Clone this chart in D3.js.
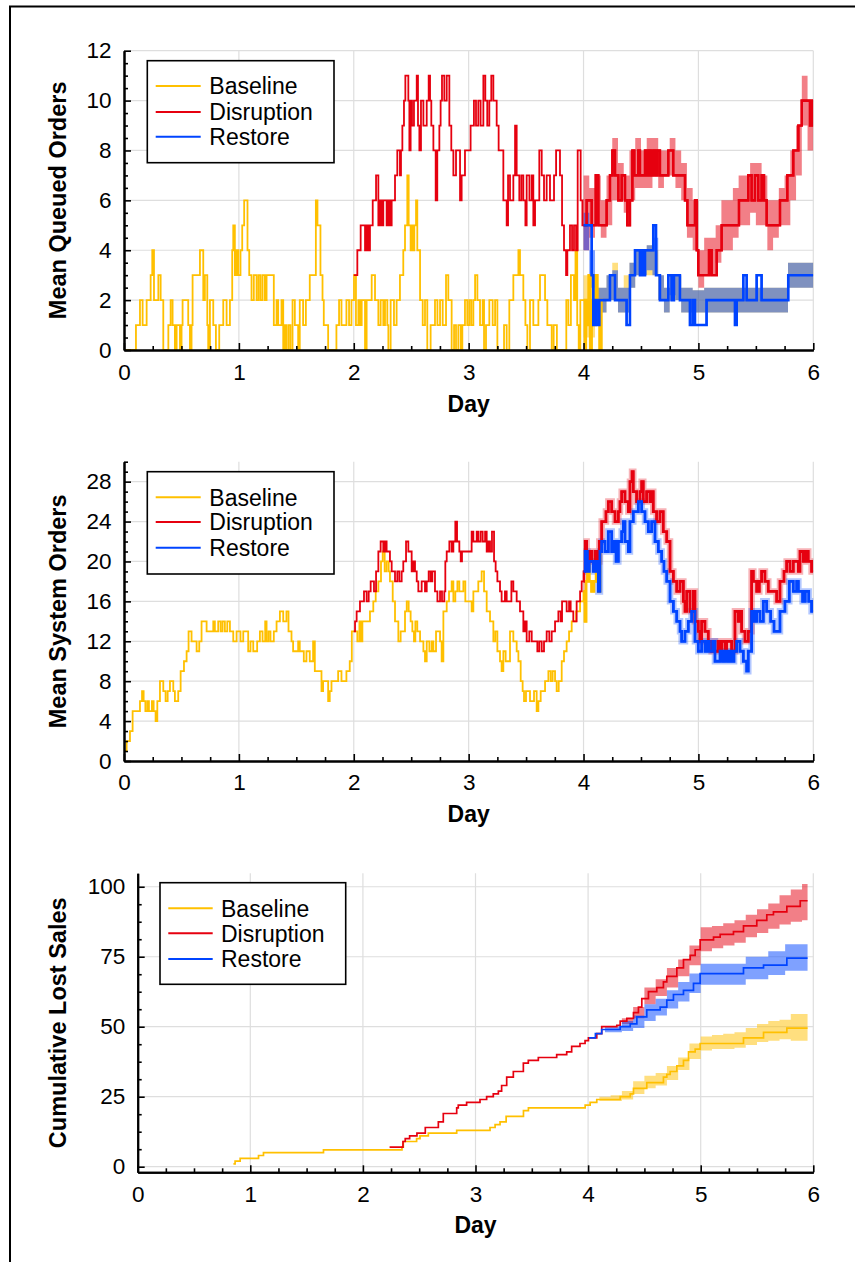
<!DOCTYPE html>
<html>
<head>
<meta charset="utf-8">
<script src="https://cdn.jsdelivr.net/npm/d3@7"></script>
<style>
  html, body { margin: 0; padding: 0; background: #fff; }
  svg { display: block; font-family: "Liberation Sans", Arial, Helvetica, sans-serif; }
</style>
</head>
<body>
<svg id="fig" width="855" height="1262"></svg>
<script>
// ---------- shared ----------
const seriesNames = ["Baseline", "Disruption", "Restore"];
const seriesColors = ["#ffc000", "#e6000f", "#0044ff"];
const dayTicks = [0, 1, 2, 3, 4, 5, 6];

// ---------- panel 1: mean queued orders, [day, value] steps ----------
const queueBaseline = [
  [0,0],[0.104,1],[0.139,2],[0.162,1],[0.197,2],[0.232,3],[0.246,4],[0.261,2],[0.299,3],[0.319,2],[0.342,0],
  [0.386,1],[0.406,2],[0.423,1],[0.443,0],[0.458,1],[0.487,0],[0.501,1],[0.510,2],[0.559,1],[0.574,0],[0.588,1],
  [0.597,3],[0.661,4],[0.690,2],[0.704,3],[0.725,1],[0.733,0],[0.748,2],[0.777,1],[0.800,0],[0.829,1],[0.864,2],
  [0.893,1],[0.922,2],[0.942,4],[0.951,5],[0.965,3],[0.980,4],[0.994,3],[1.014,4],[1.029,5],[1.046,6],[1.075,4],
  [1.090,3],[1.110,2],[1.130,3],[1.154,2],[1.171,3],[1.188,2],[1.206,3],[1.226,2],[1.241,3],[1.304,1],[1.328,2],
  [1.342,1],[1.371,2],[1.386,0],[1.400,1],[1.414,0],[1.432,1],[1.449,0],[1.467,2],[1.487,1],[1.516,0],[1.530,2],
  [1.559,1],[1.583,2],[1.617,3],[1.670,6],[1.684,5],[1.710,3],[1.728,2],[1.739,1],[1.777,0],[1.849,1],[1.872,2],
  [1.893,1],[1.936,2],[1.959,1],[1.980,2],
  [2.002,3],[2.019,1],[2.040,2],[2.054,1],[2.069,2],[2.098,0],[2.112,2],[2.156,3],[2.185,2],[2.214,1],[2.234,2],
  [2.257,1],[2.272,2],[2.292,1],[2.301,0],[2.321,2],[2.350,1],[2.373,2],[2.402,3],[2.431,4],[2.446,5],[2.466,7],
  [2.478,5],[2.495,4],[2.504,5],[2.518,4],[2.527,5],[2.542,6],[2.553,4],[2.577,2],[2.600,1],[2.620,2],[2.640,0],
  [2.669,1],[2.707,2],[2.728,1],[2.751,2],[2.774,1],[2.803,3],[2.823,2],[2.852,0],[2.873,1],[2.890,0],[2.910,1],
  [2.931,0],[2.945,1],[2.968,2],[2.988,1],[3.006,2],[3.023,1],[3.041,2],[3.056,3],[3.076,2],[3.099,1],[3.122,2],
  [3.134,0],[3.151,1],[3.180,2],[3.209,1],[3.230,2],[3.250,0],[3.308,1],[3.331,0],[3.354,2],[3.389,3],[3.433,4],
  [3.447,3],[3.476,2],[3.494,1],[3.511,0],[3.534,2],[3.563,1],[3.607,2],[3.621,3],[3.665,2],[3.685,1],[3.723,0],
  [3.740,1],[3.768,0],[3.850,2],[3.868,1],[3.890,3],[3.917,2],[3.930,4],[3.945,1],[3.958,0],[3.972,2],
  [4.000,2],[4.010,0],[4.020,2],[4.035,1],[4.045,3],[4.058,0],[4.070,2],[4.090,1],[4.105,3],[4.120,2],[4.140,0],
  [4.155,2],[4.170,2]
];
const queueDisruption = [
  [2.000,3],[2.031,4],[2.060,5],[2.098,4],[2.112,5],[2.127,4],[2.141,5],[2.165,6],[2.194,7],[2.214,5],[2.228,6],
  [2.243,5],[2.257,6],[2.286,5],[2.301,6],[2.315,5],[2.330,6],[2.359,7],[2.379,8],[2.402,7],[2.411,8],[2.423,9],
  [2.437,10],[2.449,11],[2.475,10],[2.484,8],[2.495,10],[2.507,9],[2.524,10],[2.548,11],[2.559,9],[2.571,8],
  [2.585,10],[2.606,9],[2.635,10],[2.652,11],[2.664,10],[2.675,9],[2.693,8],[2.713,6],[2.727,8],[2.745,9],
  [2.756,10],[2.768,11],[2.788,10],[2.809,11],[2.832,9],[2.849,8],[2.867,7],[2.890,8],[2.925,6],[2.939,7],
  [2.968,8],[3.017,9],[3.046,10],[3.064,9],[3.084,10],[3.104,9],[3.128,11],[3.145,10],[3.162,9],[3.180,10],
  [3.197,11],[3.215,10],[3.244,9],[3.261,8],[3.302,6],[3.331,5],[3.343,7],[3.360,6],[3.389,7],[3.404,9],
  [3.418,7],[3.441,6],[3.459,7],[3.476,6],[3.494,5],[3.505,7],[3.529,6],[3.549,7],[3.563,5],[3.578,6],[3.615,8],
  [3.636,7],[3.656,6],[3.679,7],[3.708,6],[3.743,7],[3.761,8],[3.795,7],[3.813,5],[3.830,4],[3.848,3],[3.859,4],
  [3.882,5],[3.900,4],[3.917,5],[3.935,4],[3.949,8],[3.975,6],[3.990,5],
  [4.027,6],[4.071,5],[4.106,7],[4.129,5],[4.201,6],[4.230,7],[4.251,8],[4.274,7],[4.303,6],[4.332,7],[4.361,6],
  [4.381,5],[4.404,6],[4.425,8],[4.442,7],[4.477,8],[4.491,7],[4.535,8],[4.549,7],[4.570,8],[4.587,7],[4.607,8],
  [4.625,7],[4.642,8],[4.665,7],[4.738,8],[4.781,7],[4.883,6],[4.904,5],[4.970,6],[4.985,4],[4.999,3],[5.092,4],
  [5.115,3],[5.159,4],[5.202,5],[5.353,6],[5.434,7],[5.463,6],[5.492,7],[5.521,6],[5.550,7],[5.571,6],[5.594,5],
  [5.710,6],[5.774,7],[5.826,8],[5.870,9],[5.899,10],[5.971,9],[5.991,10],[6.000,10]
];
const queueRestore = [
  [4.000,5],[4.071,3],[4.085,1],[4.100,2],[4.114,1],[4.137,2],[4.230,3],[4.274,2],[4.375,1],[4.404,3],[4.448,4],
  [4.491,3],[4.506,4],[4.520,3],[4.535,4],[4.607,5],[4.631,3],[4.665,2],[4.738,3],[4.767,2],[4.787,3],[4.839,2],
  [4.926,1],[4.950,2],[4.970,1],[5.071,2],[5.318,1],[5.333,2],[5.391,3],[5.420,2],[5.507,3],[5.550,2],[5.782,3],
  [6.000,3]
];
// interval bands: [day, low, high]
const queueBaselineBand = [
  [4.00,0.5,3],[4.05,0.5,3],[4.10,1,2.5],[4.15,1.5,2.5],[4.20,2,3],[4.25,2,3.5],[4.30,1.5,2.5],[4.35,1.5,3],
  [4.40,2.5,3.5],[4.45,3,4],[4.55,3,4.2],[4.60,3,4],[4.65,2,3],[4.70,1.5,2.5],[4.75,2,3],[4.85,1.5,2.5],
  [4.95,1.5,2.4],[5.05,1.5,2.5],[5.78,2.5,3.5],[6.00,2.5,3.5]
];
const queueDisruptionBand = [
  [4.00,4,7],[4.05,4.5,6.5],[4.10,5,7],[4.15,4.5,6],[4.20,5,7],[4.25,6,8.5],[4.30,6,7.5],[4.35,5.5,7],
  [4.40,6,8],[4.45,6.5,8.5],[4.50,6.5,8],[4.55,6.5,8.5],[4.60,7,8.5],[4.65,6.5,8],[4.70,7,8],[4.75,7,8.5],
  [4.80,6.5,8],[4.85,6,7.5],[4.90,4.5,6.5],[4.95,4,6],[5.00,2.5,4],[5.05,3,4.5],[5.15,3.5,5],[5.20,4,6],
  [5.30,4.5,6.5],[5.35,5,7],[5.45,5.5,7.5],[5.50,5,7.5],[5.55,5,7],[5.60,4,6],[5.65,4.5,6],[5.70,5,6.5],
  [5.75,5,7],[5.80,6,8],[5.85,7,9],[5.90,9,11],[5.95,8,10],[6.00,8,10]
];
const queueRestoreBand = [
  [4.00,4,5.5],[4.05,2.5,4],[4.10,1.5,2.5],[4.20,2,3],[4.25,2,3.2],[4.30,1.5,2.5],[4.40,2.5,3.5],[4.45,3,4],
  [4.55,3.2,4.2],[4.60,3,4.5],[4.65,2,3],[4.70,1.5,2.5],[4.75,2.2,3],[4.80,2,3],[4.85,1.5,2.5],[4.95,1.5,2.4],
  [5.05,1.5,2.5],[5.78,2.5,3.5],[6.00,2.5,3.5]
];

// ---------- panel 2: mean system orders ----------
const systemBaseline = [
  [0,1],[0.023,2],[0.052,3],[0.075,5],[0.139,6],[0.157,7],[0.171,6],[0.186,5],[0.203,6],[0.217,5],[0.243,6],
  [0.258,5],[0.275,4],[0.290,6],[0.313,8],[0.342,7],[0.362,6],[0.380,7],[0.400,8],[0.429,7],[0.443,6],[0.472,7],
  [0.493,9],[0.522,10],[0.545,11],[0.562,13],[0.588,12],[0.632,11],[0.655,12],[0.675,14],[0.719,13],[0.777,14],
  [0.791,13],[0.820,14],[0.841,13],[0.858,14],[0.878,13],[0.899,14],[0.922,13],[0.951,12],[0.980,13],[1.014,12],
  [1.038,13],[1.081,11],[1.101,12],[1.125,11],[1.159,12],[1.183,13],[1.206,12],[1.229,14],[1.241,12],[1.258,13],
  [1.275,12],[1.304,13],[1.328,14],[1.357,15],[1.386,14],[1.414,15],[1.432,13],[1.458,12],[1.472,11],[1.516,12],
  [1.530,11],[1.565,10],[1.588,11],[1.617,10],[1.646,12],[1.661,9],[1.719,7],[1.733,8],[1.777,6],[1.791,7],
  [1.806,8],[1.864,9],[1.893,8],[1.936,9],[1.965,10],[1.983,13],
  [2.000,13],[2.031,12],[2.049,14],[2.060,12],[2.075,14],[2.141,15],[2.170,16],[2.191,17],[2.214,18],[2.237,20],
  [2.252,21],[2.269,19],[2.286,20],[2.304,19],[2.315,18],[2.339,16],[2.359,14],[2.388,12],[2.408,13],[2.446,15],
  [2.461,16],[2.478,15],[2.495,14],[2.510,13],[2.524,12],[2.536,14],[2.553,13],[2.577,12],[2.606,11],[2.620,10],
  [2.635,12],[2.658,11],[2.678,12],[2.693,11],[2.716,13],[2.751,12],[2.765,10],[2.780,15],[2.809,16],[2.829,17],
  [2.852,18],[2.867,16],[2.884,17],[2.902,18],[2.919,17],[2.954,18],[2.971,16],[3.026,15],[3.041,17],[3.084,18],
  [3.113,19],[3.134,17],[3.157,15],[3.186,14],[3.215,12],[3.232,13],[3.250,11],[3.273,10],[3.287,9],[3.302,11],
  [3.322,10],[3.360,13],[3.389,12],[3.418,11],[3.433,10],[3.453,8],[3.470,7],[3.482,6],[3.499,7],[3.534,6],
  [3.569,7],[3.592,5],[3.607,6],[3.627,7],[3.665,8],[3.694,9],[3.714,8],[3.731,9],[3.752,8],[3.766,7],[3.784,8],
  [3.810,10],[3.830,11],[3.853,12],[3.874,13],[3.897,14],[3.935,15],[3.970,16],
  [4.000,17],[4.010,14],[4.022,18],[4.035,20],[4.050,18],[4.070,17],[4.090,18],[4.110,19],[4.130,17],[4.143,21],
  [4.160,21]
];
const systemDisruption = [
  [2.000,13],[2.011,14],[2.025,15],[2.054,16],[2.089,17],[2.112,16],[2.130,17],[2.147,18],[2.176,17],[2.194,19],
  [2.214,21],[2.234,22],[2.257,21],[2.272,22],[2.286,21],[2.315,20],[2.330,19],[2.359,18],[2.379,19],[2.397,18],
  [2.417,19],[2.431,20],[2.455,22],[2.475,21],[2.504,19],[2.519,20],[2.533,19],[2.548,18],[2.562,17],[2.591,18],
  [2.620,17],[2.635,18],[2.652,19],[2.669,18],[2.684,19],[2.707,17],[2.728,16],[2.751,17],[2.768,16],[2.788,17],
  [2.797,20],[2.809,21],[2.832,22],[2.852,21],[2.867,22],[2.884,24],[2.899,22],[2.919,21],[2.931,20],[2.942,21],
  [3.026,23],[3.041,22],[3.070,23],[3.084,22],[3.104,23],[3.122,22],[3.143,23],[3.157,21],[3.171,22],[3.186,21],
  [3.203,23],[3.221,20],[3.235,19],[3.250,18],[3.273,17],[3.287,16],[3.316,17],[3.331,16],[3.372,18],[3.389,17],
  [3.418,16],[3.447,15],[3.476,13],[3.491,14],[3.505,12],[3.528,13],[3.549,12],[3.598,11],[3.615,12],[3.636,11],
  [3.656,12],[3.679,13],[3.702,12],[3.723,13],[3.752,14],[3.781,15],[3.801,14],[3.813,16],[3.853,15],[3.874,16],
  [3.888,15],[3.911,14],[3.940,16],[3.970,17],[3.984,18],
  [4.000,19],[4.013,22],[4.027,20],[4.050,21],[4.071,20],[4.100,21],[4.120,20],[4.137,22],[4.158,24],[4.195,25],
  [4.216,26],[4.245,25],[4.274,24],[4.303,25],[4.317,26],[4.332,27],[4.361,26],[4.390,25],[4.404,28],[4.422,29],
  [4.433,27],[4.462,26],[4.491,27],[4.506,28],[4.520,26],[4.549,27],[4.578,26],[4.593,27],[4.607,25],[4.636,24],
  [4.665,25],[4.694,23],[4.724,22],[4.753,19],[4.782,18],[4.811,17],[4.840,18],[4.869,16],[4.883,15],[4.898,17],
  [4.927,15],[4.956,17],[4.970,14],[4.999,13],[5.013,12],[5.028,14],[5.057,13],[5.086,12],[5.115,11],[5.129,12],
  [5.144,11],[5.173,12],[5.188,11],[5.202,12],[5.231,11],[5.245,12],[5.289,11],[5.318,15],[5.347,14],[5.362,15],
  [5.376,13],[5.405,12],[5.434,13],[5.463,19],[5.478,18],[5.507,17],[5.530,18],[5.550,19],[5.579,18],[5.608,17],
  [5.681,16],[5.710,18],[5.745,19],[5.768,20],[5.797,19],[5.826,20],[5.870,19],[5.884,21],[5.913,20],[5.936,21],
  [5.956,20],[5.985,19],[6.000,19]
];
const systemRestore = [
  [4.000,19],[4.013,21],[4.033,19],[4.050,20],[4.085,19],[4.108,20],[4.129,17],[4.143,21],[4.158,22],[4.187,21],
  [4.216,23],[4.245,21],[4.259,22],[4.283,20],[4.303,22],[4.332,23],[4.347,24],[4.361,22],[4.390,21],[4.404,24],
  [4.433,25],[4.477,26],[4.506,25],[4.535,24],[4.564,23],[4.593,24],[4.622,22],[4.651,21],[4.680,20],[4.700,19],
  [4.724,18],[4.753,16],[4.782,15],[4.811,14],[4.840,13],[4.854,12],[4.883,13],[4.912,14],[4.941,15],[4.970,12],
  [4.999,11],[5.028,12],[5.057,11],[5.077,12],[5.095,11],[5.124,12],[5.144,10],[5.188,11],[5.211,10],[5.231,11],
  [5.251,10],[5.275,11],[5.289,10],[5.310,11],[5.333,12],[5.362,11],[5.391,10],[5.420,9],[5.434,11],[5.463,15],
  [5.484,14],[5.507,15],[5.536,14],[5.565,16],[5.594,15],[5.629,14],[5.658,13],[5.710,15],[5.753,16],[5.791,18],
  [5.826,17],[5.855,18],[5.870,17],[5.907,16],[5.930,17],[5.960,16],[5.985,15],[6.000,15]
];

// ---------- panel 3: cumulative lost sales ----------
const lostBaseline = [
  [0.850,1],[0.865,2],[0.910,3],[1.073,4],[1.117,5],[1.650,6],[2.347,7],[2.359,9],[2.477,10],[2.507,11],[2.581,12],
  [2.833,13],[3.129,14],[3.174,15],[3.218,16],[3.272,18],[3.426,20],[3.470,21],[3.974,22],[4.018,23],[4.077,24],
  [4.285,25],[4.374,26],[4.403,28],[4.521,30],[4.669,32],[4.699,33],[4.729,34],[4.788,36],[4.847,38],[4.892,41],
  [4.951,42],[4.995,44],[5.380,46],[5.558,48],[5.765,49.5],[5.949,49.5]
];
const lostDisruption = [
  [2.237,7],[2.356,9],[2.376,10],[2.415,11],[2.480,12],[2.554,14],[2.670,16],[2.714,19],[2.833,21],[2.847,22],
  [2.921,23],[3.040,24],[3.099,25],[3.158,26],[3.203,27],[3.232,29],[3.277,32],[3.336,34],[3.425,37],[3.469,38],
  [3.558,39],[3.721,40],[3.810,41],[3.854,43],[3.928,44],[3.973,45],[4.003,46],[4.077,47.5],[4.121,50],
  [4.255,50.5],[4.285,52],[4.344,53],[4.403,55],[4.447,57],[4.477,60],[4.536,62.5],[4.610,64],[4.669,66],
  [4.699,68],[4.788,71],[4.847,74],[4.907,75.5],[4.951,77.5],[4.995,81],[5.114,82],[5.173,83],[5.291,84],
  [5.380,86],[5.498,88],[5.587,90],[5.646,91],[5.765,93],[5.884,95],[5.949,95]
];
const lostRestore = [
  [4.009,46],[4.065,47.5],[4.121,49],[4.285,50],[4.374,51],[4.433,53.5],[4.521,56],[4.640,57],[4.699,59.5],
  [4.758,61.5],[4.847,63],[4.936,65.5],[4.995,69],[5.380,71],[5.558,72],[5.765,74.5],[5.949,74.5]
];
const lostBaselineBand = [
  [4.10,23.5,25],[4.20,23.5,25.5],[4.30,24,27],[4.40,26,30.5],[4.50,28,32.5],[4.60,29,33.5],[4.70,31,36],
  [4.80,34.5,39],[4.90,38.5,44],[5.00,41.5,46.5],[5.10,42,47],[5.20,42,47.5],[5.30,42.5,48],[5.40,43.5,49.5],
  [5.50,44.5,51],[5.60,45,52],[5.70,45.5,52.5],[5.80,45,54.5],[5.949,45,54.5]
];
const lostDisruptionBand = [
  [4.30,51,53],[4.40,53,57],[4.50,58,64],[4.60,61,67],[4.70,64,71],[4.80,68,74],[4.90,72,79],[5.00,77,85.5],
  [5.10,78,86],[5.20,79,87],[5.30,80,88],[5.40,82,90],[5.50,83.5,92],[5.60,85,94],[5.70,86.5,97],[5.80,87.5,99],
  [5.90,88,101],[5.949,88,101]
];
const lostRestoreBand = [
  [4.15,48,50],[4.30,48.5,52],[4.40,49.5,54],[4.50,52,58],[4.60,54,60],[4.70,56.5,63],[4.80,59,66],[4.90,62,69],
  [5.00,65,72.5],[5.40,67,75],[5.60,68.5,77],[5.75,70,79.5],[5.949,70,79.5]
];

// ---------- drawing ----------
const svg = d3.select("#fig");

// outer frame
svg.append("rect")
  .attr("x", 10).attr("y", 6.5).attr("width", 900).attr("height", 1300)
  .attr("fill", "none").attr("stroke", "#000").attr("stroke-width", 2);

function range(a, b, step) {
  const out = [];
  for (let v = a; v <= b + 1e-9; v += step) out.push(+v.toFixed(4));
  return out;
}

function drawPanel(cfg) {
  const x = d3.scaleLinear().domain([0, 6]).range([cfg.left, cfg.right]);
  const y = d3.scaleLinear().domain(cfg.yDomain).range([cfg.bottom, cfg.top]);
  const g = svg.append("g");

  const clipId = "clip-" + cfg.id;
  svg.append("clipPath").attr("id", clipId).append("rect")
    .attr("x", cfg.left).attr("y", cfg.top - 2)
    .attr("width", cfg.right - cfg.left).attr("height", cfg.bottom - cfg.top + 2);

  // grid
  const grid = g.append("g").attr("stroke", "#dedede").attr("stroke-width", 1.2);
  grid.selectAll("line.v").data(dayTicks.filter(d => d > 0)).join("line")
    .attr("x1", d => x(d)).attr("x2", d => x(d))
    .attr("y1", cfg.top).attr("y2", cfg.bottom);
  grid.selectAll("line.h").data(cfg.gridValues).join("line")
    .attr("x1", cfg.left).attr("x2", cfg.right)
    .attr("y1", d => y(d)).attr("y2", d => y(d));

  const plot = g.append("g").attr("clip-path", `url(#${clipId})`);

  // interval bands
  const area = d3.area()
    .x(d => x(d[0])).y0(d => y(d[1])).y1(d => y(d[2]))
    .curve(d3.curveStepAfter);
  cfg.bands.forEach(b => {
    plot.append("path").datum(b.data)
      .attr("d", area)
      .attr("fill", seriesColors[b.series])
      .attr("fill-opacity", cfg.bandOpacity);
  });

  const line = d3.line().x(d => x(d[0])).y(d => y(d[1])).curve(d3.curveStepAfter);

  // the replicated part of each run (after day 4) is drawn heavier
  const lateClip = "late-" + cfg.id;
  svg.append("clipPath").attr("id", lateClip).append("rect")
    .attr("x", x(4)).attr("y", cfg.top).attr("width", x(6) - x(4)).attr("height", cfg.bottom - cfg.top);

  if (cfg.halo) {
    const hg = plot.append("g").attr("clip-path", `url(#${lateClip})`);
    cfg.series.forEach(s => {
      if (s.series === 0) return;
      hg.append("path").datum(s.data)
        .attr("d", line).attr("fill", "none")
        .attr("stroke", seriesColors[s.series])
        .attr("stroke-opacity", 0.3).attr("stroke-width", 6.5);
    });
  }

  cfg.series.forEach(s => {
    plot.append("path").datum(s.data)
      .attr("d", line).attr("fill", "none")
      .attr("stroke", seriesColors[s.series])
      .attr("stroke-width", cfg.lineWidth);
    if (cfg.lateWidth) {
      plot.append("g").attr("clip-path", `url(#${lateClip})`)
        .append("path").datum(s.data)
        .attr("d", line).attr("fill", "none")
        .attr("stroke", seriesColors[s.series])
        .attr("stroke-width", cfg.lateWidth);
    }
  });

  // axes
  const xAxis = d3.axisBottom(x).tickValues(dayTicks).tickSize(-7).tickSizeOuter(0)
    .tickPadding(cfg.xTickPad).tickFormat(d3.format("d"));
  const xMinor = d3.axisBottom(x).tickValues(range(0, 6, 0.25).filter(v => v % 1 !== 0))
    .tickSize(-4).tickSizeOuter(0).tickFormat("");
  const yAxis = d3.axisLeft(y).tickValues(cfg.yTicks).tickSize(-7).tickSizeOuter(0)
    .tickPadding(12.5).tickFormat(d3.format("d"));
  const yMinor = d3.axisLeft(y).tickValues(cfg.yMinor).tickSize(-4).tickSizeOuter(0).tickFormat("");

  const axes = [
    g.append("g").attr("transform", `translate(0,${cfg.bottom})`).call(xMinor),
    g.append("g").attr("transform", `translate(0,${cfg.bottom})`).call(xAxis),
    g.append("g").attr("transform", `translate(${cfg.left},0)`).call(yMinor),
    g.append("g").attr("transform", `translate(${cfg.left},0)`).call(yAxis)
  ];
  axes.forEach(a => {
    a.attr("font-family", null).attr("font-size", 22.5);
    a.selectAll(".tick line").attr("stroke", "#000").attr("stroke-width", 1.6);
    a.selectAll(".tick text").attr("fill", "#000");
    a.select(".domain").attr("stroke", "#000").attr("stroke-width", 2);
  });

  // axis titles
  g.append("text")
    .attr("x", (cfg.left + cfg.right) / 2).attr("y", cfg.xTitleY)
    .attr("text-anchor", "middle").attr("font-weight", "bold").attr("font-size", 23)
    .text("Day");
  g.append("text")
    .attr("transform", `translate(66,${(cfg.top + cfg.bottom) / 2}) rotate(-90)`)
    .attr("text-anchor", "middle").attr("font-weight", "bold").attr("font-size", 23.5)
    .text(cfg.yTitle);

  // legend
  const L = cfg.legend;
  const lg = g.append("g");
  lg.append("rect").attr("x", L.x).attr("y", L.y).attr("width", L.w).attr("height", L.h)
    .attr("fill", "#fff").attr("stroke", "#000").attr("stroke-width", 1.6);
  seriesNames.forEach((name, i) => {
    const ry = L.rows[i];
    lg.append("line").attr("x1", L.lineX1).attr("x2", L.lineX2).attr("y1", ry).attr("y2", ry)
      .attr("stroke", seriesColors[i]).attr("stroke-width", 2);
    lg.append("text").attr("x", L.textX).attr("y", ry).attr("dy", "0.36em")
      .attr("font-size", 23).text(name);
  });
}

drawPanel({
  id: "queue", left: 124, right: 813.3, top: 50.7, bottom: 350,
  yDomain: [0, 12], yTicks: range(0, 12, 2), yMinor: range(0, 12, 0.5).filter(v => v % 2 !== 0),
  gridValues: range(2, 12, 2), yTitle: "Mean Queued Orders", xTickPad: 14, xTitleY: 411.5,
  lineWidth: 1.8, lateWidth: 2.6, bandOpacity: 0.5, halo: false,
  bands: [
    { series: 0, data: queueBaselineBand },
    { series: 1, data: queueDisruptionBand },
    { series: 2, data: queueRestoreBand }
  ],
  series: [
    { series: 0, data: queueBaseline },
    { series: 1, data: queueDisruption },
    { series: 2, data: queueRestore }
  ],
  legend: { x: 147.3, y: 60.7, w: 186.7, h: 102, lineX1: 155.7, lineX2: 200.7, textX: 209.3, rows: [86, 112, 136.7] }
});

drawPanel({
  id: "system", left: 124, right: 813.3, top: 461.7, bottom: 761,
  yDomain: [0, 30], yTicks: range(0, 28, 4), yMinor: range(0, 30, 1).filter(v => v % 4 !== 0),
  gridValues: range(4, 28, 4), yTitle: "Mean System Orders", xTickPad: 13.5, xTitleY: 821.5,
  lineWidth: 1.8, lateWidth: 2.8, bandOpacity: 0.5, halo: true,
  bands: [],
  series: [
    { series: 0, data: systemBaseline },
    { series: 1, data: systemDisruption },
    { series: 2, data: systemRestore }
  ],
  legend: { x: 147.3, y: 471.7, w: 186.7, h: 102.3, lineX1: 155.7, lineX2: 200.7, textX: 209.3, rows: [497.3, 522, 547.7] }
});

drawPanel({
  id: "lost", left: 137.7, right: 813.3, top: 873.3, bottom: 1172.3,
  yDomain: [-2, 104.8], yTicks: [0, 25, 50, 75, 100], yMinor: range(0, 100, 6.25).filter(v => v % 25 !== 0),
  gridValues: [0, 25, 50, 75, 100], yTitle: "Cumulative Lost Sales", xTickPad: 13.5, xTitleY: 1232.5,
  lineWidth: 1.7, lateWidth: 0, bandOpacity: 0.5, halo: false,
  bands: [
    { series: 0, data: lostBaselineBand },
    { series: 1, data: lostDisruptionBand },
    { series: 2, data: lostRestoreBand }
  ],
  series: [
    { series: 0, data: lostBaseline },
    { series: 1, data: lostDisruption },
    { series: 2, data: lostRestore }
  ],
  legend: { x: 160, y: 882.7, w: 185.7, h: 101.6, lineX1: 168.3, lineX2: 212.7, textX: 221, rows: [908.3, 933.3, 959] }
});
</script>
</body>
</html>
